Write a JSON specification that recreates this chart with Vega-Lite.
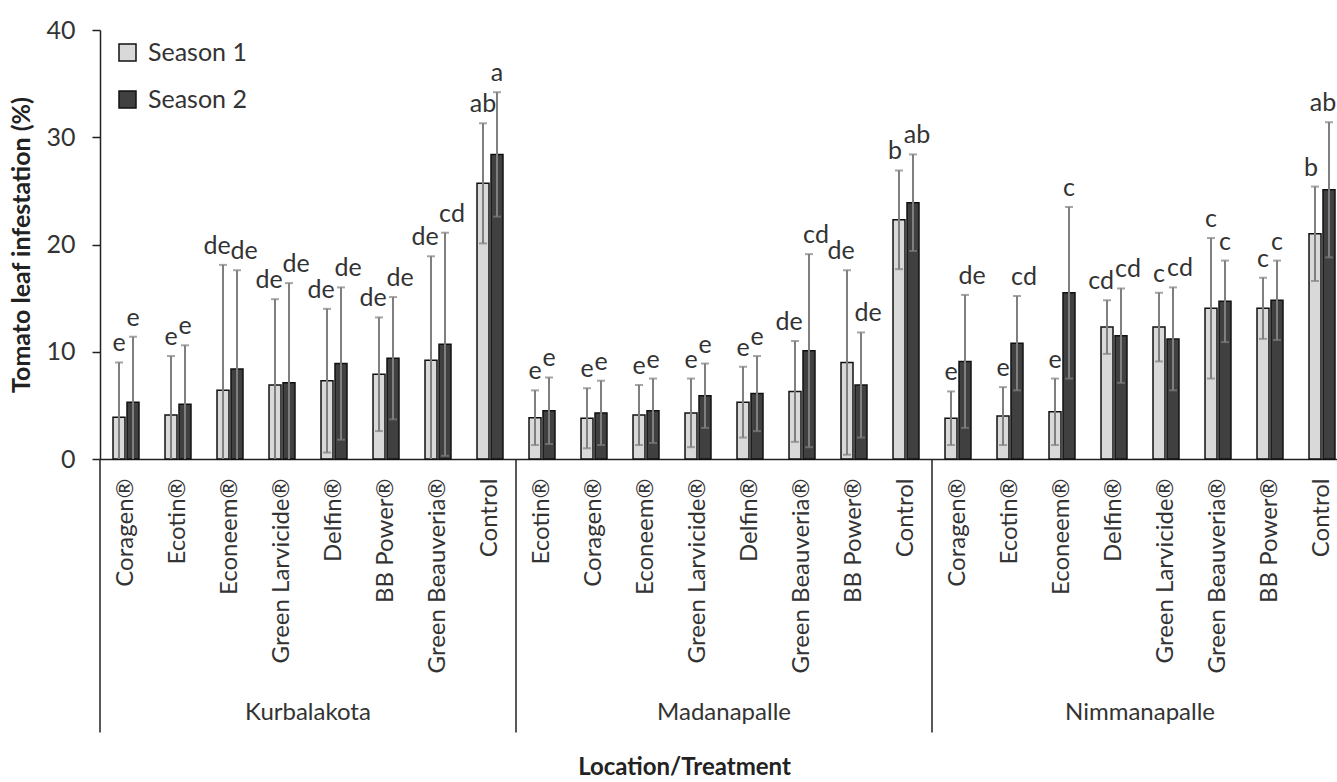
{
  "$schema": "https://vega.github.io/schema/vega-lite/v6.json",
  "width": 1248,
  "height": 429,
  "autosize": {"type": "none"},
  "padding": {"left": 100, "top": 30, "right": 0, "bottom": 323},
  "background": "white",
  "config": {
    "view": {"stroke": null},
    "font": "Lato",
    "text": {"font": "Lato"}
  },
  "datasets": {
    "bars": [
      {"loc": "Kurbalakota", "key": "Kurbalakota|Coragen®", "season": "Season 1", "val": 3.9, "lo": -1.2, "hi": 9.0, "let": "e"},
      {"loc": "Kurbalakota", "key": "Kurbalakota|Coragen®", "season": "Season 2", "val": 5.3, "lo": -0.8, "hi": 11.4, "let": "e"},
      {"loc": "Kurbalakota", "key": "Kurbalakota|Ecotin®", "season": "Season 1", "val": 4.1, "lo": -1.4, "hi": 9.6, "let": "e"},
      {"loc": "Kurbalakota", "key": "Kurbalakota|Ecotin®", "season": "Season 2", "val": 5.1, "lo": -0.4, "hi": 10.6, "let": "e"},
      {"loc": "Kurbalakota", "key": "Kurbalakota|Econeem®", "season": "Season 1", "val": 6.4, "lo": -5.3, "hi": 18.1, "let": "de"},
      {"loc": "Kurbalakota", "key": "Kurbalakota|Econeem®", "season": "Season 2", "val": 8.4, "lo": -0.8, "hi": 17.6, "let": "de"},
      {"loc": "Kurbalakota", "key": "Kurbalakota|Green Larvicide®", "season": "Season 1", "val": 6.9, "lo": -1.1, "hi": 14.9, "let": "de"},
      {"loc": "Kurbalakota", "key": "Kurbalakota|Green Larvicide®", "season": "Season 2", "val": 7.1, "lo": -2.2, "hi": 16.4, "let": "de"},
      {"loc": "Kurbalakota", "key": "Kurbalakota|Delfin®", "season": "Season 1", "val": 7.3, "lo": 0.6, "hi": 14.0, "let": "de"},
      {"loc": "Kurbalakota", "key": "Kurbalakota|Delfin®", "season": "Season 2", "val": 8.9, "lo": 1.8, "hi": 16.0, "let": "de"},
      {"loc": "Kurbalakota", "key": "Kurbalakota|BB Power®", "season": "Season 1", "val": 7.9, "lo": 2.6, "hi": 13.2, "let": "de"},
      {"loc": "Kurbalakota", "key": "Kurbalakota|BB Power®", "season": "Season 2", "val": 9.4, "lo": 3.7, "hi": 15.1, "let": "de"},
      {"loc": "Kurbalakota", "key": "Kurbalakota|Green Beauveria®", "season": "Season 1", "val": 9.2, "lo": -0.5, "hi": 18.9, "let": "de"},
      {"loc": "Kurbalakota", "key": "Kurbalakota|Green Beauveria®", "season": "Season 2", "val": 10.7, "lo": 0.3, "hi": 21.1, "let": "cd"},
      {"loc": "Kurbalakota", "key": "Kurbalakota|Control", "season": "Season 1", "val": 25.7, "lo": 20.1, "hi": 31.3, "let": "ab"},
      {"loc": "Kurbalakota", "key": "Kurbalakota|Control", "season": "Season 2", "val": 28.4, "lo": 22.6, "hi": 34.2, "let": "a"},
      {"loc": "Madanapalle", "key": "Madanapalle|Ecotin®", "season": "Season 1", "val": 3.85, "lo": 1.3, "hi": 6.4, "let": "e"},
      {"loc": "Madanapalle", "key": "Madanapalle|Ecotin®", "season": "Season 2", "val": 4.5, "lo": 1.4, "hi": 7.6, "let": "e"},
      {"loc": "Madanapalle", "key": "Madanapalle|Coragen®", "season": "Season 1", "val": 3.8, "lo": 1.0, "hi": 6.6, "let": "e"},
      {"loc": "Madanapalle", "key": "Madanapalle|Coragen®", "season": "Season 2", "val": 4.3, "lo": 1.3, "hi": 7.3, "let": "e"},
      {"loc": "Madanapalle", "key": "Madanapalle|Econeem®", "season": "Season 1", "val": 4.1, "lo": 1.3, "hi": 6.9, "let": "e"},
      {"loc": "Madanapalle", "key": "Madanapalle|Econeem®", "season": "Season 2", "val": 4.5, "lo": 1.5, "hi": 7.5, "let": "e"},
      {"loc": "Madanapalle", "key": "Madanapalle|Green Larvicide®", "season": "Season 1", "val": 4.3, "lo": 1.1, "hi": 7.5, "let": "e"},
      {"loc": "Madanapalle", "key": "Madanapalle|Green Larvicide®", "season": "Season 2", "val": 5.9, "lo": 2.9, "hi": 8.9, "let": "e"},
      {"loc": "Madanapalle", "key": "Madanapalle|Delfin®", "season": "Season 1", "val": 5.3, "lo": 2.0, "hi": 8.6, "let": "e"},
      {"loc": "Madanapalle", "key": "Madanapalle|Delfin®", "season": "Season 2", "val": 6.1, "lo": 2.6, "hi": 9.6, "let": "e"},
      {"loc": "Madanapalle", "key": "Madanapalle|Green Beauveria®", "season": "Season 1", "val": 6.3, "lo": 1.6, "hi": 11.0, "let": "de"},
      {"loc": "Madanapalle", "key": "Madanapalle|Green Beauveria®", "season": "Season 2", "val": 10.1, "lo": 1.1, "hi": 19.1, "let": "cd"},
      {"loc": "Madanapalle", "key": "Madanapalle|BB Power®", "season": "Season 1", "val": 9.0, "lo": 0.4, "hi": 17.6, "let": "de"},
      {"loc": "Madanapalle", "key": "Madanapalle|BB Power®", "season": "Season 2", "val": 6.9, "lo": 2.0, "hi": 11.8, "let": "de"},
      {"loc": "Madanapalle", "key": "Madanapalle|Control", "season": "Season 1", "val": 22.3, "lo": 17.7, "hi": 26.9, "let": "b"},
      {"loc": "Madanapalle", "key": "Madanapalle|Control", "season": "Season 2", "val": 23.9, "lo": 19.4, "hi": 28.4, "let": "ab"},
      {"loc": "Nimmanapalle", "key": "Nimmanapalle|Coragen®", "season": "Season 1", "val": 3.8, "lo": 1.3, "hi": 6.3, "let": "e"},
      {"loc": "Nimmanapalle", "key": "Nimmanapalle|Coragen®", "season": "Season 2", "val": 9.1, "lo": 2.9, "hi": 15.3, "let": "de"},
      {"loc": "Nimmanapalle", "key": "Nimmanapalle|Ecotin®", "season": "Season 1", "val": 4.0, "lo": 1.3, "hi": 6.7, "let": "e"},
      {"loc": "Nimmanapalle", "key": "Nimmanapalle|Ecotin®", "season": "Season 2", "val": 10.8, "lo": 6.4, "hi": 15.2, "let": "cd"},
      {"loc": "Nimmanapalle", "key": "Nimmanapalle|Econeem®", "season": "Season 1", "val": 4.4, "lo": 1.3, "hi": 7.5, "let": "e"},
      {"loc": "Nimmanapalle", "key": "Nimmanapalle|Econeem®", "season": "Season 2", "val": 15.5, "lo": 7.5, "hi": 23.5, "let": "c"},
      {"loc": "Nimmanapalle", "key": "Nimmanapalle|Delfin®", "season": "Season 1", "val": 12.3, "lo": 9.8, "hi": 14.8, "let": "cd"},
      {"loc": "Nimmanapalle", "key": "Nimmanapalle|Delfin®", "season": "Season 2", "val": 11.5, "lo": 7.1, "hi": 15.9, "let": "cd"},
      {"loc": "Nimmanapalle", "key": "Nimmanapalle|Green Larvicide®", "season": "Season 1", "val": 12.3, "lo": 9.1, "hi": 15.5, "let": "c"},
      {"loc": "Nimmanapalle", "key": "Nimmanapalle|Green Larvicide®", "season": "Season 2", "val": 11.2, "lo": 6.4, "hi": 16.0, "let": "cd"},
      {"loc": "Nimmanapalle", "key": "Nimmanapalle|Green Beauveria®", "season": "Season 1", "val": 14.05, "lo": 7.5, "hi": 20.6, "let": "c"},
      {"loc": "Nimmanapalle", "key": "Nimmanapalle|Green Beauveria®", "season": "Season 2", "val": 14.7, "lo": 10.9, "hi": 18.5, "let": "c"},
      {"loc": "Nimmanapalle", "key": "Nimmanapalle|BB Power®", "season": "Season 1", "val": 14.05, "lo": 11.2, "hi": 16.9, "let": "c"},
      {"loc": "Nimmanapalle", "key": "Nimmanapalle|BB Power®", "season": "Season 2", "val": 14.8, "lo": 11.1, "hi": 18.5, "let": "c"},
      {"loc": "Nimmanapalle", "key": "Nimmanapalle|Control", "season": "Season 1", "val": 21.0, "lo": 16.6, "hi": 25.4, "let": "b"},
      {"loc": "Nimmanapalle", "key": "Nimmanapalle|Control", "season": "Season 2", "val": 25.1, "lo": 18.8, "hi": 31.4, "let": "ab"}
    ],
    "groups": [
      {"loc": "Kurbalakota", "first": "Kurbalakota|Coragen®", "mid": "Kurbalakota|Delfin®"},
      {"loc": "Madanapalle", "first": "Madanapalle|Ecotin®", "mid": "Madanapalle|Delfin®"},
      {"loc": "Nimmanapalle", "first": "Nimmanapalle|Coragen®", "mid": "Nimmanapalle|Green Larvicide®"}
    ]
  },
  "layer": [
    {
      "data": {"name": "bars"},
      "mark": {"type": "bar", "stroke": "#111111", "strokeWidth": 1.5},
      "encoding": {
        "x": {
          "field": "key", "type": "nominal", "sort": null,
          "scale": {
            "domain": [
              "Kurbalakota|Coragen®", "Kurbalakota|Ecotin®", "Kurbalakota|Econeem®", "Kurbalakota|Green Larvicide®", "Kurbalakota|Delfin®", "Kurbalakota|BB Power®", "Kurbalakota|Green Beauveria®", "Kurbalakota|Control",
              "Madanapalle|Ecotin®", "Madanapalle|Coragen®", "Madanapalle|Econeem®", "Madanapalle|Green Larvicide®", "Madanapalle|Delfin®", "Madanapalle|Green Beauveria®", "Madanapalle|BB Power®", "Madanapalle|Control",
              "Nimmanapalle|Coragen®", "Nimmanapalle|Ecotin®", "Nimmanapalle|Econeem®", "Nimmanapalle|Delfin®", "Nimmanapalle|Green Larvicide®", "Nimmanapalle|Green Beauveria®", "Nimmanapalle|BB Power®", "Nimmanapalle|Control"
            ],
            "paddingInner": 0, "paddingOuter": 0
          },
          "axis": {
            "labelExpr": "split(datum.label, '|')[1]",
            "labelAngle": 270,
            "labelAlign": "right",
            "labelBaseline": "middle",
            "labelPadding": 19,
            "labelFontSize": 24,
            "labelColor": "#333333",
            "labelFont": "Lato",
            "labelLimit": 300,
            "ticks": false,
            "domainColor": "#222222",
            "domainWidth": 1.5,
            "title": "Location/Treatment",
            "titleFont": "Lato",
            "titleFontSize": 24,
            "titleFontWeight": "bold",
            "titleColor": "#222222",
            "titleBaseline": "alphabetic",
            "titleAnchor": "middle",
            "titleX": 584,
            "titleY": 315
          }
        },
        "xOffset": {"field": "season", "type": "nominal", "scale": {"paddingInner": 0.143, "paddingOuter": 0.93}},
        "y": {
          "field": "val", "type": "quantitative",
          "scale": {"domain": [0, 40], "nice": false, "zero": true},
          "axis": {
            "values": [0, 10, 20, 30, 40],
            "grid": false,
            "tickSize": 8,
            "tickColor": "#222222",
            "tickWidth": 1.5,
            "domainColor": "#222222",
            "domainWidth": 1.5,
            "labelPadding": 17,
            "labelFontSize": 25,
            "labelColor": "#333333",
            "labelFont": "Lato",
            "title": "Tomato leaf infestation (%)",
            "titleFont": "Lato",
            "titleFontSize": 25,
            "titleFontWeight": "bold",
            "titleColor": "#222222",
            "titlePadding": 11
          }
        },
        "fill": {
          "field": "season", "type": "nominal",
          "scale": {"domain": ["Season 1", "Season 2"], "range": ["#d9d9d9", "#404040"]},
          "legend": {
            "title": null,
            "orient": "none",
            "legendX": 15,
            "legendY": 10,
            "padding": 0,
            "symbolType": "square",
            "symbolSize": 289,
            "symbolStrokeColor": "#111111",
            "symbolStrokeWidth": 1.5,
            "labelFontSize": 25,
            "labelFont": "Lato",
            "labelColor": "#333333",
            "labelOffset": 8,
            "rowPadding": 21
          }
        }
      }
    },
    {
      "data": {"name": "bars"},
      "mark": {"type": "rule", "color": "#7f7f7f", "strokeWidth": 2, "clip": true},
      "encoding": {
        "x": {"field": "key", "type": "nominal", "sort": null},
        "xOffset": {"field": "season", "type": "nominal"},
        "y": {"field": "lo", "type": "quantitative"},
        "y2": {"field": "hi"}
      }
    },
    {
      "data": {"name": "bars"},
      "mark": {"type": "tick", "color": "#7f7f7f", "thickness": 2, "size": 8, "clip": true},
      "encoding": {
        "x": {"field": "key", "type": "nominal", "sort": null},
        "xOffset": {"field": "season", "type": "nominal"},
        "y": {"field": "hi", "type": "quantitative"}
      }
    },
    {
      "data": {"name": "bars"},
      "mark": {"type": "tick", "color": "#7f7f7f", "thickness": 2, "size": 8, "clip": true},
      "encoding": {
        "x": {"field": "key", "type": "nominal", "sort": null},
        "xOffset": {"field": "season", "type": "nominal"},
        "y": {"field": "lo", "type": "quantitative"}
      }
    },
    {
      "data": {"name": "bars"},
      "mark": {
        "type": "text", "fontSize": 25, "color": "#333333", "baseline": "alphabetic", "dy": -11, "font": "Lato",
        "dx": {"expr": "(length(datum.let) > 1 && datum.let != 'ab') ? (datum.season == 'Season 1' ? -6 : 7) : (datum.let == 'ab' && datum.season == 'Season 2' ? (datum.hi > 30 ? -6 : 4) : (datum.let == 'b' ? -4 : 0))"}
      },
      "encoding": {
        "x": {"field": "key", "type": "nominal", "sort": null},
        "xOffset": {"field": "season", "type": "nominal"},
        "y": {"field": "hi", "type": "quantitative"},
        "text": {"field": "let"}
      }
    },
    {
      "data": {"name": "groups"},
      "mark": {"type": "rule", "color": "#222222", "strokeWidth": 1.5},
      "encoding": {
        "x": {"field": "first", "type": "nominal", "sort": null, "bandPosition": 0},
        "y": {"datum": 0, "type": "quantitative"},
        "y2": {"datum": -25.5}
      }
    },
    {
      "data": {"name": "groups"},
      "mark": {"type": "text", "fontSize": 24, "color": "#333333", "baseline": "alphabetic", "align": "center", "font": "Lato"},
      "encoding": {
        "x": {"field": "mid", "type": "nominal", "sort": null, "bandPosition": 0},
        "y": {"datum": -24.3, "type": "quantitative"},
        "text": {"field": "loc"}
      }
    }
  ]
}
